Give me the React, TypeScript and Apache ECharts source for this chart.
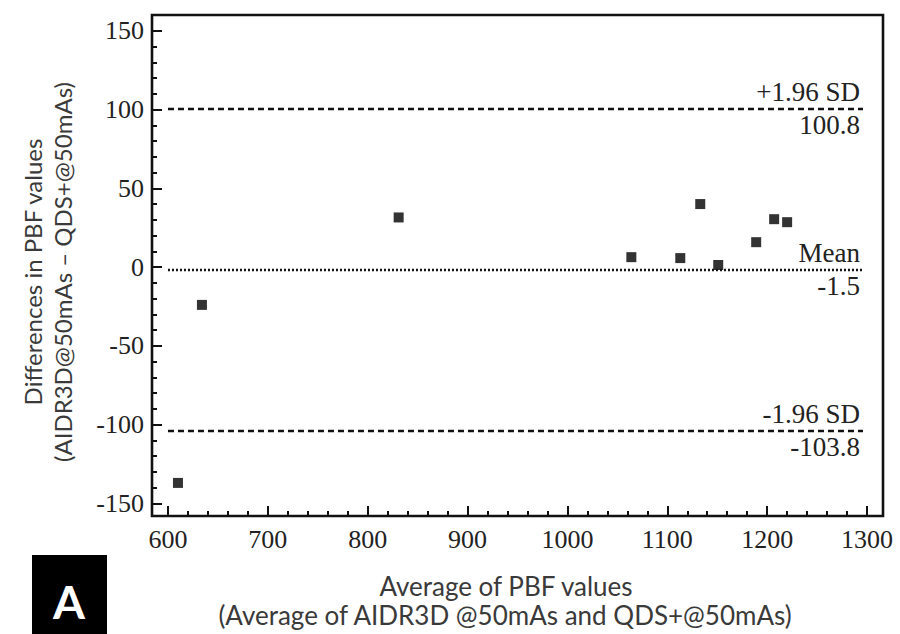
import React, { useEffect, useRef } from "react";
import * as echarts from "echarts";

const averages = [610, 634, 831, 1064, 1113, 1133, 1151, 1189, 1207, 1220];
const differences = [-137, -24, 31.5, 6.3, 5.7, 40, 1.3, 15.8, 30.4, 28.5];

const upperLimit = 100.8;
const meanDiff = -1.5;
const lowerLimit = -103.8;
const lineStart = 600;
const lineEnd = 1296;

const xMajorTicks = [600, 700, 800, 900, 1000, 1100, 1200, 1300];
const yMajorTicks = [-150, -100, -50, 0, 50, 100, 150];
const xMinorTicks: number[] = [];
for (let v = 600; v <= 1300; v += 20) xMinorTicks.push(v);
const yMinorTicks: number[] = [];
for (let v = -150; v <= 150; v += 10) yMinorTicks.push(v);

const SERIF = "'Liberation Serif', 'DejaVu Serif', serif";
const SANS = "Lato, 'Liberation Sans', sans-serif";

function refLine(value: number, top: string, bottom: string, type: any) {
  const lbl = {
    show: true,
    fontFamily: SERIF,
    fontSize: 27,
    color: "#222",
    distance: 3,
  };
  return [
    [
      {
        coord: [lineStart, value],
        lineStyle: { color: "#111", width: 2.4, type },
        label: { ...lbl, position: "insideEndTop", formatter: top },
      },
      { coord: [lineEnd, value] },
    ],
    [
      {
        coord: [lineStart, value],
        lineStyle: { color: "rgba(0,0,0,0)", width: 0 },
        label: { ...lbl, position: "insideEndBottom", formatter: bottom },
      },
      { coord: [lineEnd, value] },
    ],
  ];
}

export default function App() {
  const ref = useRef<HTMLDivElement>(null);
  useEffect(() => {
    if (!ref.current) return;
    const chart = echarts.init(ref.current, null, { renderer: "svg" });
    const xBase = {
      type: "value",
      min: 584,
      max: 1316,
      position: "bottom",
      axisLine: { show: false, onZero: false },
      splitLine: { show: false },
    };
    const yBase = {
      type: "value",
      min: -158,
      max: 160,
      position: "left",
      axisLine: { show: false, onZero: false },
      splitLine: { show: false },
    };
    const tickLabel = {
      fontFamily: SERIF,
      fontSize: 26,
      color: "#222",
      formatter: (v: number) => String(v),
    };
    chart.setOption({
      animation: false,
      backgroundColor: "#fff",
      grid: {
        left: 152,
        right: 17,
        top: 15,
        bottom: 118,
        show: true,
        borderColor: "#111",
        borderWidth: 2.6,
      },
      xAxis: [
        {
          ...xBase,
          axisTick: {
            show: true,
            inside: true,
            length: 10,
            customValues: xMajorTicks,
            lineStyle: { color: "#111", width: 2 },
          },
          axisLabel: { show: true, customValues: xMajorTicks, margin: 10, ...tickLabel },
        },
        {
          ...xBase,
          axisTick: {
            show: true,
            inside: true,
            length: 5,
            customValues: xMinorTicks,
            lineStyle: { color: "#111", width: 2 },
          },
          axisLabel: { show: false },
        },
      ],
      yAxis: [
        {
          ...yBase,
          axisTick: {
            show: true,
            inside: true,
            length: 10,
            customValues: yMajorTicks,
            lineStyle: { color: "#111", width: 2 },
          },
          axisLabel: { show: true, customValues: yMajorTicks, margin: 8, ...tickLabel },
        },
        {
          ...yBase,
          axisTick: {
            show: true,
            inside: true,
            length: 5,
            customValues: yMinorTicks,
            lineStyle: { color: "#111", width: 2 },
          },
          axisLabel: { show: false },
        },
      ],
      series: [
        {
          type: "scatter",
          xAxisIndex: 0,
          yAxisIndex: 0,
          symbol: "rect",
          symbolSize: 10,
          itemStyle: { color: "#000" },
          data: averages.map((a, i) => [a, differences[i]]),
          markLine: {
            silent: true,
            symbol: "none",
            data: [
              ...refLine(upperLimit, "+1.96 SD", String(upperLimit), [6, 4]),
              ...refLine(meanDiff, "Mean", String(meanDiff), [2, 2]),
              ...refLine(lowerLimit, "-1.96 SD", String(lowerLimit), [6, 4]),
            ],
          },
        },
      ],
      graphic: [
        {
          type: "text",
          x: 32,
          y: 272,
          rotation: Math.PI / 2,
          style: {
            text: "Differences in PBF values",
            font: `24px ${SANS}`,
            fill: "#3a3a3a",
            align: "center",
            verticalAlign: "middle",
          },
        },
        {
          type: "text",
          x: 62,
          y: 272,
          rotation: Math.PI / 2,
          style: {
            text: "(AIDR3D@50mAs – QDS+@50mAs)",
            font: `24px ${SANS}`,
            fill: "#3a3a3a",
            align: "center",
            verticalAlign: "middle",
          },
        },
        {
          type: "text",
          x: 506,
          y: 586,
          style: {
            text: "Average of PBF values",
            font: `26px ${SANS}`,
            fill: "#3a3a3a",
            align: "center",
            verticalAlign: "middle",
          },
        },
        {
          type: "text",
          x: 505,
          y: 615,
          style: {
            text: "(Average of AIDR3D @50mAs and QDS+@50mAs)",
            font: `26px ${SANS}`,
            fill: "#3a3a3a",
            align: "center",
            verticalAlign: "middle",
          },
        },
        {
          type: "rect",
          shape: { x: 32, y: 555, width: 75, height: 79 },
          style: { fill: "#000" },
        },
        {
          type: "text",
          x: 69,
          y: 601,
          style: {
            text: "A",
            font: `bold 46px ${SANS}`,
            fill: "#fff",
            align: "center",
            verticalAlign: "middle",
          },
        },
      ],
    });
    return () => chart.dispose();
  }, []);
  return <div ref={ref} style={{ width: 900, height: 634, position: "fixed", left: 0, top: 0 }} />;
}
